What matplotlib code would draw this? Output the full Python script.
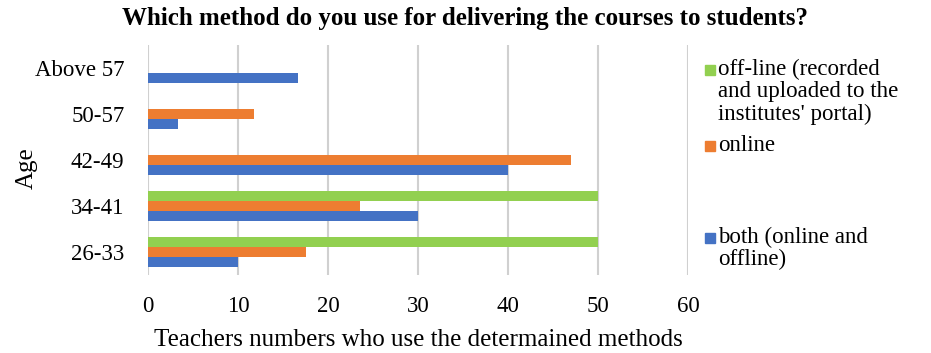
import numpy as np
import matplotlib.pyplot as plt
from matplotlib.patches import Rectangle

# -----------------------------
# DATA
# -----------------------------
AGE_GROUPS = ["26-33", "34-41", "42-49", "50-57", "Above 57"]
BOTH = [10, 30, 40, 3.3, 16.7]
ONLINE = [17.5, 23.5, 47, 11.8, 0]
OFFLINE = [50, 50, 0, 0, 0]

LABEL_BOTH = "both (online and\noffline)"
LABEL_ONLINE = "online"
LABEL_OFFLINE = "off-line (recorded\nand uploaded to the\ninstitutes' portal)"

C_BLUE = "#4472C4"
C_ORANGE = "#ED7D31"
C_GREEN = "#92D050"

plt.rcParams['font.family'] = ['Liberation Serif', 'DejaVu Serif']

W, H = 931, 353

# -----------------------------
# PLOT
# -----------------------------
fig = plt.figure(figsize=(W / 100, H / 100), dpi=100)
ax = fig.add_axes([148 / W, 1 - 275 / H, 540 / W, 230 / H])

y = np.arange(len(AGE_GROUPS))
h = 0.22
ax.barh(y - h, BOTH, height=h, color=C_BLUE, zorder=3)
ax.barh(y, ONLINE, height=h, color=C_ORANGE, zorder=3)
ax.barh(y + h, OFFLINE, height=h, color=C_GREEN, zorder=3)

ax.set_xlim(0, 60)
ax.set_ylim(-0.5, 4.5)
ax.set_xticks(np.arange(0, 61, 10))
ax.set_yticks(y)
ax.set_yticklabels(AGE_GROUPS)
ax.tick_params(axis='both', length=0, labelsize=16.5)
ax.tick_params(axis='x', pad=15)
ax.tick_params(axis='y', pad=17)
ax.grid(axis='x', color="#D0D0D0", linewidth=1.5, zorder=0)
for s in ax.spines.values():
    s.set_visible(False)

ax.set_xlabel("Teachers numbers who use the determained methods", fontsize=18, labelpad=9)
ax.set_ylabel("Age", fontsize=18)
ax.yaxis.set_label_coords((38 - 148) / 540, (275 - 168) / 230)

fig.text(0.5, 1 - 18 / H, "Which method do you use for delivering the courses to students?",
         ha='center', va='center', fontsize=18, fontweight='bold')

# legend entries placed like the original (uneven spacing, swatch at first line)
entries = [(LABEL_OFFLINE, C_GREEN, 70), (LABEL_ONLINE, C_ORANGE, 146), (LABEL_BOTH, C_BLUE, 238)]
for label, color, yc in entries:
    fig.add_artist(Rectangle((705 / W, 1 - (yc + 5) / H), 10 / W, 10 / H,
                             transform=fig.transFigure, color=color))
    fig.text(718 / W, 1 - (yc - 11) / H, label, ha='left', va='top',
             fontsize=16.5, linespacing=1.07)

fig.savefig("out.png", dpi=100)
